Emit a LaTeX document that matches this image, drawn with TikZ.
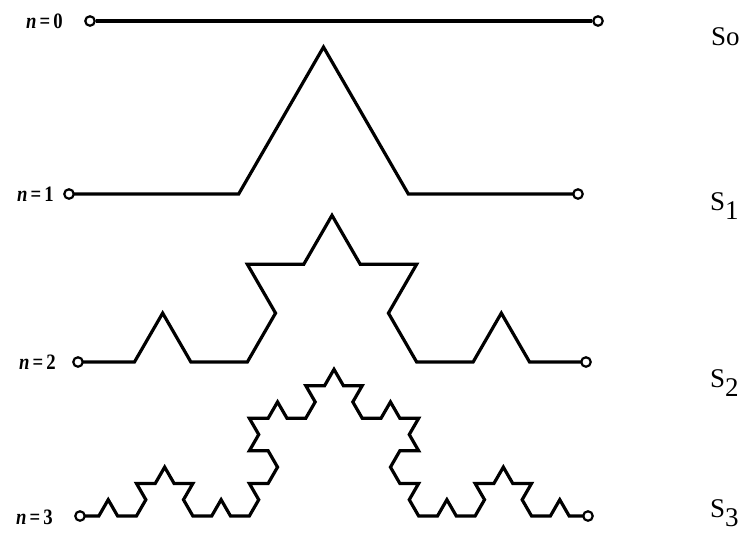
\documentclass[tikz,border=0pt]{standalone}
\usepackage{fontspec}
\newfontfamily\timesf{Liberation Serif}
\usetikzlibrary{lindenmayersystems}
\pgfdeclarelindenmayersystem{Koch}{\rule{F -> F+F--F+F}}
\begin{document}
\begin{tikzpicture}[x=1pt,y=-1pt,
  curve/.style={line width=3.2pt, line join=miter},
  term/.style={circle, draw, line width=2.2pt, fill=white, inner sep=0pt, minimum size=9.5pt},
  lvl/.style={font=\timesf\fontsize{22}{22}\selectfont\bfseries, anchor=east, inner sep=0pt},
  sname/.style={font=\timesf\fontsize{27}{27}\selectfont, anchor=base west, inner sep=0pt}]
\useasboundingbox[fill=white] (0,0) rectangle (748,539);

% end points
\coordinate (a0) at (90,21);  \coordinate (b0) at (598,21);
\coordinate (a1) at (69,194); \coordinate (b1) at (578,194);
\coordinate (a2) at (78,362); \coordinate (b2) at (586,362);
\coordinate (a3) at (80,516); \coordinate (b3) at (588,516);

% Koch curves
\begin{scope}[shift={(a1)}]
  \draw[curve] (0,0) [l-system={Koch, axiom=F, order=1, step=169.667pt, angle=60}] lindenmayer system;
\end{scope}
\begin{scope}[shift={(a2)}]
  \draw[curve] (0,0) [l-system={Koch, axiom=F, order=2, step=56.444pt, angle=60}] lindenmayer system;
\end{scope}
\begin{scope}[shift={(a3)}]
  \draw[curve] (0,0) [l-system={Koch, axiom=F, order=3, step=18.815pt, angle=60}] lindenmayer system;
\end{scope}

% terminals
\node[term] (t0l) at (a0) {};  \node[term] (t0r) at (b0) {};
\node[term] (t1l) at (a1) {};  \node[term] (t1r) at (b1) {};
\node[term] (t2l) at (a2) {};  \node[term] (t2r) at (b2) {};
\node[term] (t3l) at (a3) {};  \node[term] (t3r) at (b3) {};
\draw[curve] (t0l) -- (t0r);

% left labels
\node[lvl] (l0) at (63,21)  {\scalebox{0.85}[1]{\itshape n\upshape\,=\,0}};
\node[lvl] (l1) at (54,194) {\scalebox{0.85}[1]{\itshape n\upshape\,=\,1}};
\node[lvl] (l2) at (56,362) {\scalebox{0.85}[1]{\itshape n\upshape\,=\,2}};
\node[lvl] (l3) at (53,517) {\scalebox{0.85}[1]{\itshape n\upshape\,=\,3}};

% right labels
\node[sname] (s0) at (711,45)  {So};
\node[sname] (s1) at (710,210) {S\raisebox{-9pt}{1}};
\node[sname] (s2) at (710,387) {S\raisebox{-9pt}{2}};
\node[sname] (s3) at (710,517) {S\raisebox{-9pt}{3}};
\end{tikzpicture}
\end{document}
